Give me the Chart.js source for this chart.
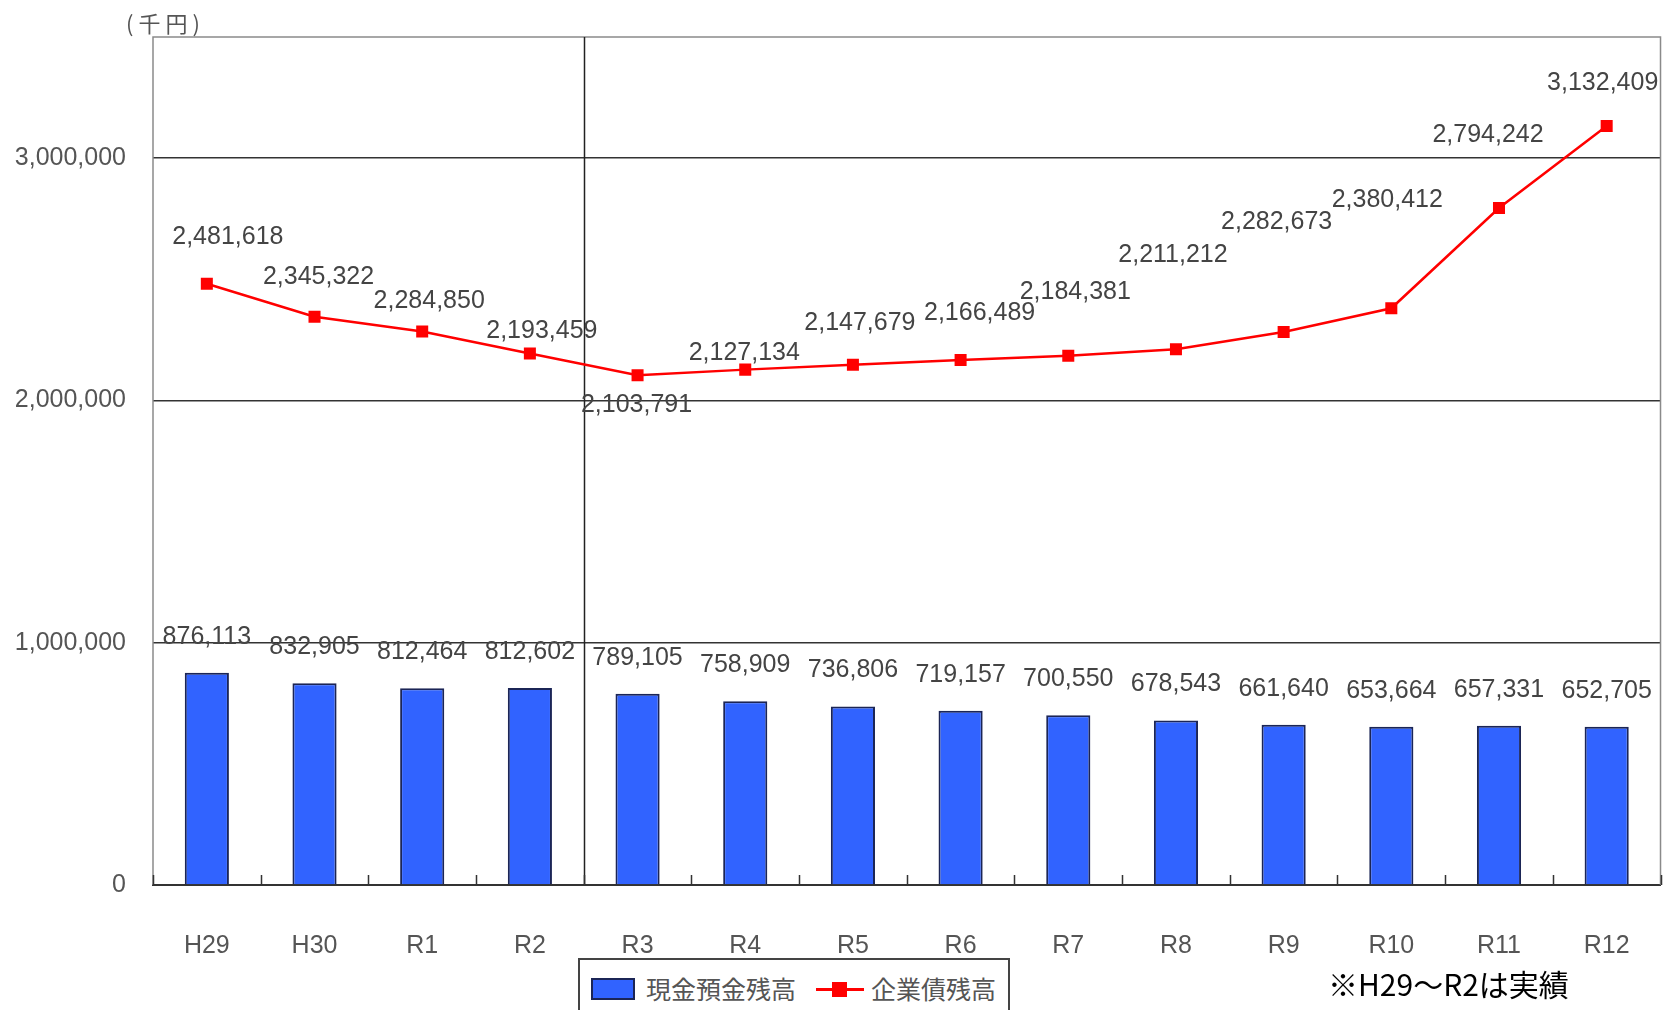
<!DOCTYPE html>
<html lang="ja">
<head>
<meta charset="utf-8">
<script src="https://cdn.jsdelivr.net/npm/chart.js@4.4.1/dist/chart.umd.min.js"></script>
<style>
  html, body { margin: 0; padding: 0; background: #fff; }
  #wrap { position: relative; width: 1676px; height: 1010px; overflow: hidden; }
  #c { position: absolute; left: 0; top: 0; }
  .unit { position: absolute; left: 126px; top: 7px; font: 22px "Noto Sans CJK JP", sans-serif; color: #555; letter-spacing: 5px; line-height: 30px; white-space: nowrap; }
  .legend { position: absolute; left: 578px; top: 958px; width: 432px; height: 70px; border: 2px solid #444; box-sizing: border-box; background: #fff; }
  .lg-bar { position: absolute; left: 11px; top: 18px; width: 44px; height: 22px; background: #3163ff; border: 2px solid #1b2556; box-sizing: border-box; }
  .lg-text { position: absolute; top: 11px; font: 25px "Noto Sans CJK JP", sans-serif; color: #555; line-height: 34px; white-space: nowrap; }
  .lg-line { position: absolute; left: 236px; top: 28px; width: 48px; height: 3px; background: #ff0000; }
  .lg-mark { position: absolute; left: 252px; top: 22px; width: 15px; height: 15px; background: #ff0000; }
  .note { position: absolute; left: 1328px; top: 963px; font: 30px "Noto Sans CJK JP", sans-serif; color: #000; white-space: nowrap; line-height: 40px; }
</style>
</head>
<body>
<div id="wrap">
  <canvas id="c" width="1676" height="1010"></canvas>
  <div class="unit">(千円)</div>
  <div class="legend">
    <div class="lg-bar"></div>
    <div class="lg-text" style="left:66px;">現金預金残高</div>
    <div class="lg-line"></div>
    <div class="lg-mark"></div>
    <div class="lg-text" style="left:291px;">企業債残高</div>
  </div>
  <div class="note">※H29～R2は実績</div>
</div>
<script>
const categories = ['H29','H30','R1','R2','R3','R4','R5','R6','R7','R8','R9','R10','R11','R12'];
const cashBalance = [876113, 832905, 812464, 812602, 789105, 758909, 736806, 719157, 700550, 678543, 661640, 653664, 657331, 652705];
const bondBalance = [2481618, 2345322, 2284850, 2193459, 2103791, 2127134, 2147679, 2166489, 2184381, 2211212, 2282673, 2380412, 2794242, 3132409];
const yTickValues = [0, 1000000, 2000000, 3000000];
const yMax = 3500000;
const seriesNames = ['現金預金残高', '企業債残高'];
const actualCount = 4; // H29–R2 are actual results

// label offsets (px) relative to each line point — manual placement as in the original
const bondLabelOffsets = [[21,-47],[4,-40],[7,-30],[12,-22],[-1,30],[-1,-17],[7,-42],[19,-47],[7,-64],[-3,-94],[-7,-110],[-4,-108],[-11,-73],[-4,-43]];

const fmt = v => v.toLocaleString('en-US');
const FONT_FAMILY = '"Liberation Sans", Arial, sans-serif';
const LABEL_FONT = '25px ' + FONT_FAMILY;

const framePlugin = {
  id: 'frame',
  beforeDatasetsDraw(chart) {
    const { ctx, chartArea: a, scales: { x } } = chart;
    ctx.save();
    ctx.strokeStyle = '#8a8a8a';
    ctx.lineWidth = 1.5;
    ctx.beginPath();
    ctx.moveTo(a.left, a.bottom);
    ctx.lineTo(a.left, a.top);
    ctx.lineTo(a.right, a.top);
    ctx.lineTo(a.right, a.bottom);
    ctx.stroke();
    const dx = (x.getPixelForValue(actualCount - 1) + x.getPixelForValue(actualCount)) / 2;
    ctx.strokeStyle = '#222';
    ctx.lineWidth = 1.5;
    ctx.beginPath();
    ctx.moveTo(Math.round(dx) + 0.5, a.top);
    ctx.lineTo(Math.round(dx) + 0.5, a.bottom);
    ctx.stroke();
    ctx.strokeStyle = '#333';
    ctx.lineWidth = 1.5;
    const n = categories.length;
    const step = (a.right - a.left) / n;
    ctx.beginPath();
    for (let i = 0; i <= n; i++) {
      const tx = Math.round(a.left + i * step) + 0.5;
      ctx.moveTo(tx, a.bottom);
      ctx.lineTo(tx, a.bottom - 10);
    }
    ctx.stroke();
    ctx.restore();
  },
  afterDatasetsDraw(chart) {
    const { ctx } = chart;
    ctx.save();
    ctx.font = LABEL_FONT;
    ctx.fillStyle = '#444';
    ctx.textAlign = 'center';
    ctx.textBaseline = 'middle';
    const barMeta = chart.getDatasetMeta(1);
    barMeta.data.forEach((el, i) => {
      ctx.fillText(fmt(cashBalance[i]), el.x, el.y - 36);
    });
    const lineMeta = chart.getDatasetMeta(0);
    lineMeta.data.forEach((el, i) => {
      const o = bondLabelOffsets[i];
      ctx.fillText(fmt(bondBalance[i]), el.x + o[0], el.y + o[1]);
    });
    ctx.restore();
  }
};

new Chart(document.getElementById('c'), {
  data: {
    labels: categories,
    datasets: [
      {
        type: 'line',
        label: seriesNames[1],
        data: bondBalance,
        borderColor: '#ff0000',
        backgroundColor: '#ff0000',
        borderWidth: 2.5,
        pointStyle: 'rect',
        pointRadius: 8.5,
        pointBorderWidth: 0,
        tension: 0,
        order: 0
      },
      {
        type: 'bar',
        label: seriesNames[0],
        data: cashBalance,
        backgroundColor: '#3163ff',
        borderColor: '#1b2556',
        borderWidth: 2,
        barPercentage: 0.41,
        categoryPercentage: 1,
        order: 1
      }
    ]
  },
  options: {
    responsive: false,
    animation: false,
    devicePixelRatio: 1,
    layout: { padding: { top: 37, right: 11, left: 0, bottom: 0 } },
    plugins: { legend: { display: false }, tooltip: { enabled: false } },
    scales: {
      x: {
        afterFit(s) { s.height = 125; },
        grid: { display: false, drawTicks: false },
        border: { display: true, color: '#333', width: 2 },
        ticks: { padding: 46, color: '#555', font: { family: FONT_FAMILY, size: 25 } }
      },
      y: {
        min: 0,
        max: yMax,
        afterFit(s) { s.width = 153; },
        afterBuildTicks(s) { s.ticks = yTickValues.map(v => ({ value: v })); },
        grid: {
          drawTicks: false,
          color: ctx => (ctx.tick && ctx.tick.value === 0) ? 'rgba(0,0,0,0)' : '#333',
          lineWidth: 1.5
        },
        border: { display: false },
        ticks: {
          padding: 27,
          color: '#555',
          font: { family: FONT_FAMILY, size: 25, lineHeight: 0.6 },
          callback: v => fmt(v)
        }
      }
    }
  },
  plugins: [framePlugin]
});
</script>
</body>
</html>
